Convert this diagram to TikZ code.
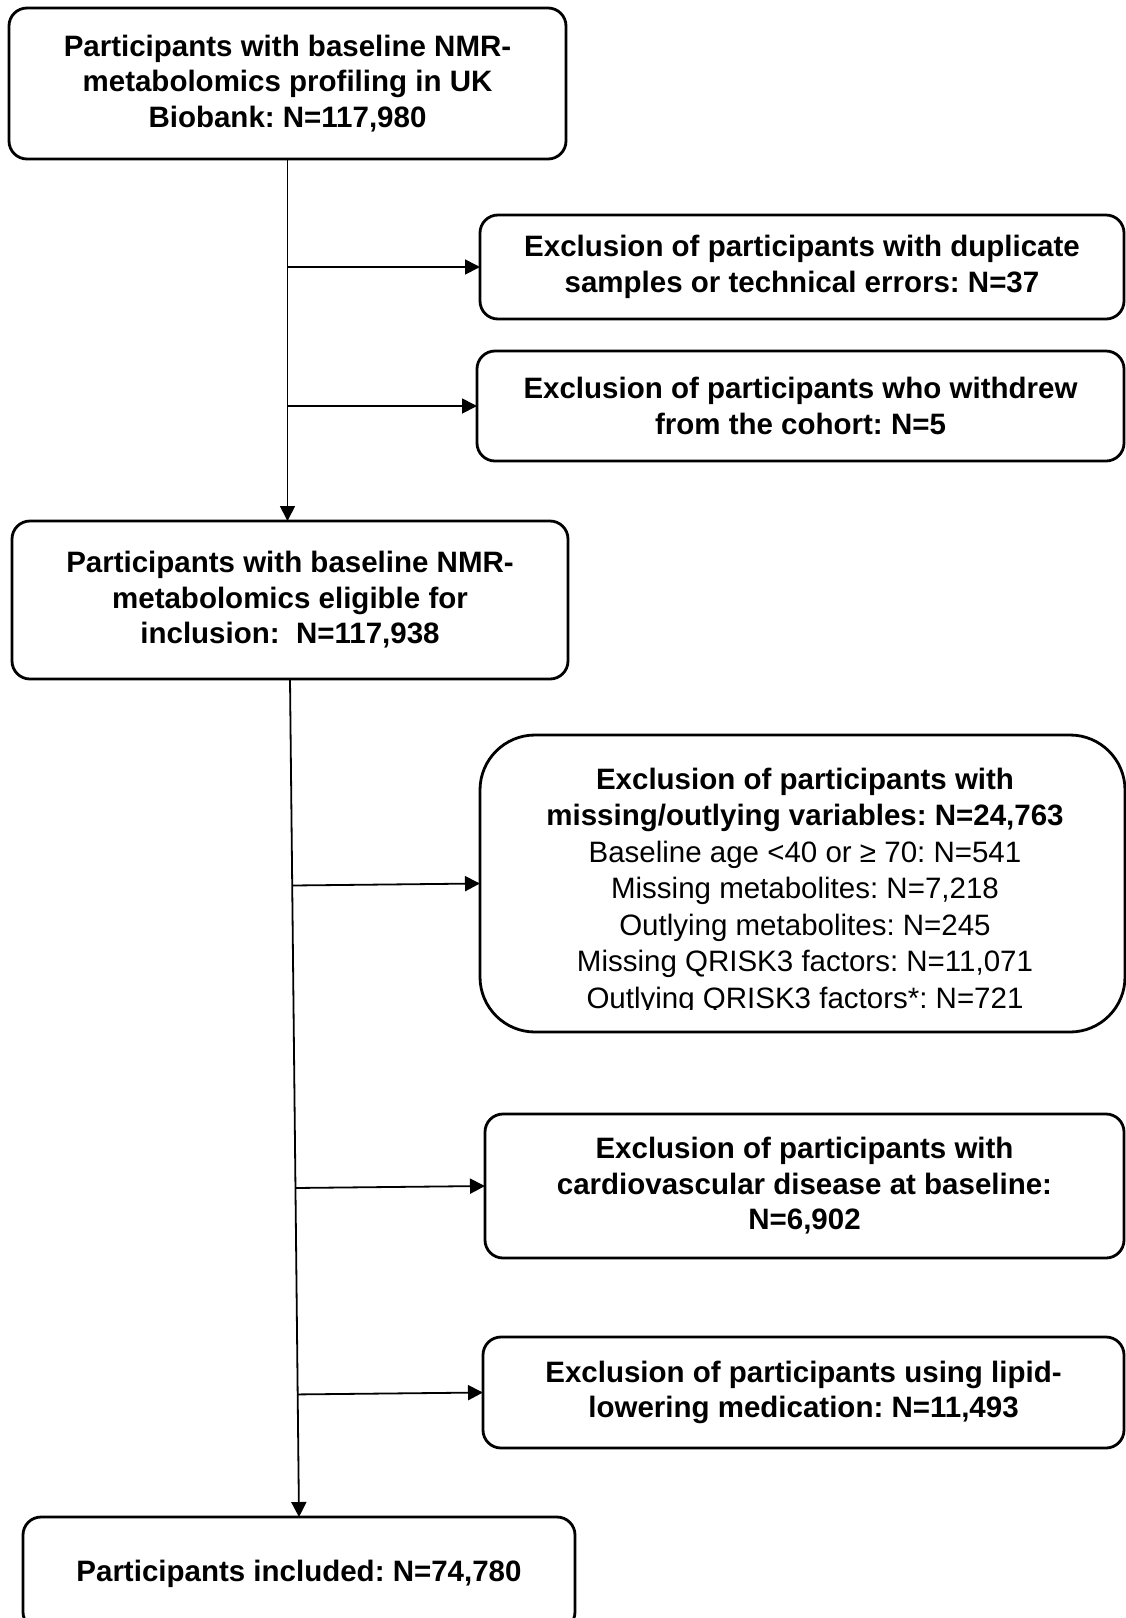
\documentclass[tikz,border=0pt]{standalone}
\usepackage{fontspec}
\setmainfont{Liberation Sans}
\usetikzlibrary{arrows.meta,calc}
\frenchspacing
\begin{document}
\frenchspacing
\begin{tikzpicture}[x=1pt,y=-1pt,
  box/.style={draw, line width=2.8pt, rounded corners=18pt, inner sep=0pt, outer sep=0pt,
    align=center, font=\fontsize{29.5}{35.5}\selectfont\bfseries\frenchspacing},
  txt/.style={inner sep=0pt, align=center, font=\fontsize{29.5}{36.5}\selectfont\frenchspacing},
  conn/.style={line width=1.8pt},
  arr/.style={conn, -{Triangle[length=15pt,width=15pt]}}]
\useasboundingbox (0,0) rectangle (1126,1618);
\clip (0,0) rectangle (1126,1618);

\node[box, minimum width=557pt, minimum height=151pt] (b1) at (287.5,83.5)
  {Participants with baseline NMR-\\metabolomics profiling in UK\\Biobank: N=117,980};
\node[box, minimum width=644pt, minimum height=104pt] (bd) at (802,267)
  {Exclusion of participants with duplicate\\samples or technical errors: N=37};
\node[box, minimum width=647pt, minimum height=110pt] (bw) at (800.5,406)
  {Exclusion of participants who withdrew\\from the cohort: N=5};
\node[box, minimum width=556pt, minimum height=158pt] (b2) at (290,600)
  {Participants with baseline NMR-\\metabolomics eligible for\\inclusion:~~N=117,938};
\node[box, rounded corners=55pt, minimum width=645pt, minimum height=297pt] (b3) at (802.5,883.5) {};
\begin{scope}
  \clip (480,735) rectangle (1125,1009);
  \node[txt] (t3) at (805,891)
    {\bfseries Exclusion of participants with\\
     \bfseries missing/outlying variables: N=24,763\\
     Baseline age <40 or ≥ 70: N=541\\
     Missing metabolites: N=7,218\\
     Outlying metabolites: N=245\\
     Missing QRISK3 factors: N=11,071\\
     Outlying QRISK3 factors*: N=721};
\end{scope}
\node[box, minimum width=639pt, minimum height=144pt] (b4) at (804.5,1186)
  {Exclusion of participants with\\cardiovascular disease at baseline:\\N=6,902};
\node[box, minimum width=641pt, minimum height=111pt] (b5) at (803.5,1392.5)
  {Exclusion of participants using lipid-\\lowering medication: N=11,493};
\node[box, minimum width=552pt, minimum height=113pt] (b6) at (299,1573.5)
  {Participants included: N=74,780};

\coordinate (t1b) at (b1.south |- b2.north);
\draw[arr] (b1.south) -- (t1b);
\draw[arr] ($(b1.south)!(bd.west)!(t1b)$) -- (bd.west);
\draw[arr] ($(b1.south)!(bw.west)!(t1b)$) -- (bw.west);

\draw[arr] (b2.south) -- (b6.north);
\draw[arr] ($(b2.south)!(b3.west)!(b6.north)$) -- (b3.west);
\draw[arr] ($(b2.south)!(b4.west)!(b6.north)$) -- (b4.west);
\draw[arr] ($(b2.south)!(b5.west)!(b6.north)$) -- (b5.west);
\end{tikzpicture}
\end{document}
